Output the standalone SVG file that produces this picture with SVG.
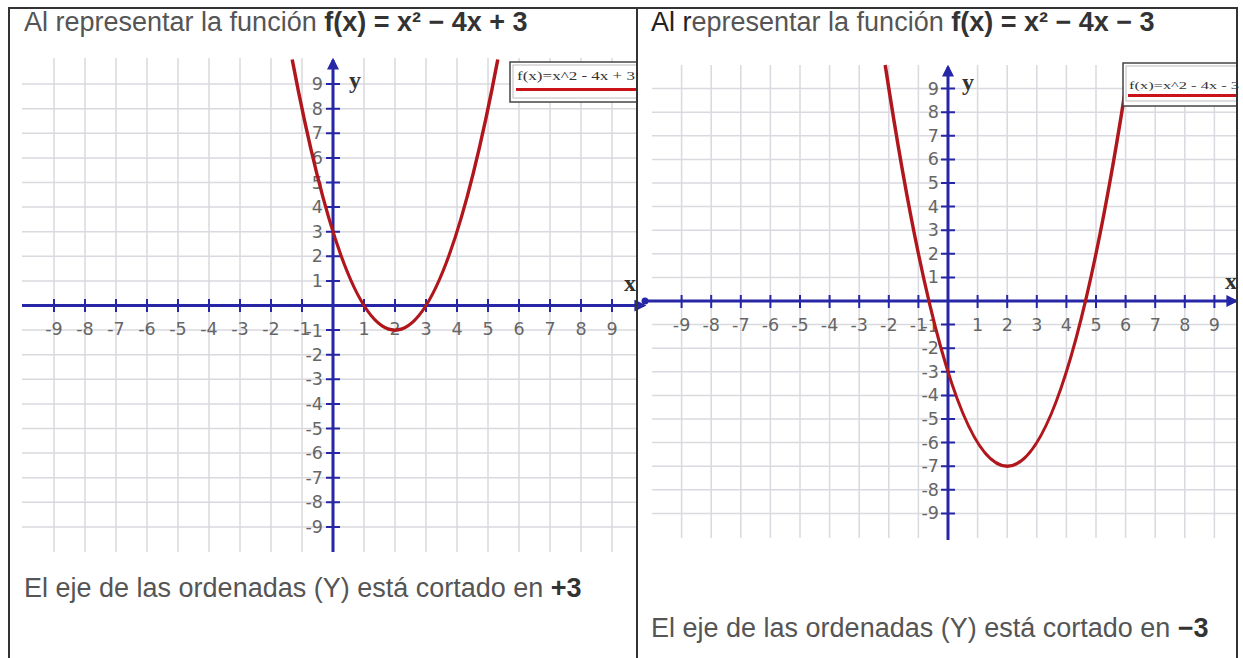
<svg xmlns="http://www.w3.org/2000/svg" width="1243" height="658" viewBox="0 0 1243 658">
<style>
.title{font-family:"Liberation Sans",Arial,sans-serif;font-size:27px;fill:#555}
.b{font-weight:bold;fill:#333}
.grid{stroke:#d9d9e0;stroke-width:1.5;fill:none}
.axis{stroke:#2626a6;stroke-width:3;fill:none}
.tick{stroke:#2626a6;stroke-width:2;fill:none}
.curve{stroke:#b0171d;stroke-width:3.5;fill:none}
.lbl{font-family:"DejaVu Sans",Verdana,sans-serif;font-size:17.5px;fill:#666}
.xl{text-anchor:middle}
.yl{text-anchor:end}
.axn{font-family:"Liberation Serif","Times New Roman",serif;font-weight:bold;font-size:24px;fill:#333}
.leg{fill:#fff;stroke:#444;stroke-width:1.5}
.legin{fill:none;stroke:#bbb;stroke-width:1}
.legt{font-family:"Liberation Serif","Times New Roman",serif;fill:#333}
.frame{stroke:#333;stroke-width:2;fill:none}
</style>
<defs>
<marker id="arr" viewBox="0 0 10 10" refX="8" refY="5" markerWidth="4" markerHeight="4" orient="auto-start-reverse"><path d="M0 0L10 5L0 10z" fill="#2626a6"/></marker>
</defs>
<rect width="1243" height="658" fill="#fff"/>

<g id="panel-left">
<path class="grid" d="M54 58V552M85 58V552M116 58V552M147 58V552M178 58V552M209 58V552M240 58V552M271 58V552M302 58V552M364 58V552M395 58V552M426 58V552M457 58V552M488 58V552M519 58V552M550 58V552M581 58V552M612 58V552
M22 84.1H637M22 108.7H637M22 133.3H637M22 157.9H637M22 182.5H637M22 207.1H637M22 231.7H637M22 256.3H637M22 280.9H637M22 330.1H637M22 354.7H637M22 379.3H637M22 403.9H637M22 428.5H637M22 453.1H637M22 477.7H637M22 502.3H637M22 526.9H637"/>
<path class="axis" d="M22 305.5H644" marker-end="url(#arr)"/>
<path class="axis" d="M333 552V60" marker-end="url(#arr)"/>
<path class="tick" d="M54 299V312M85 299V312M116 299V312M147 299V312M178 299V312M209 299V312M240 299V312M271 299V312M302 299V312M364 299V312M395 299V312M426 299V312M457 299V312M488 299V312M519 299V312M550 299V312M581 299V312M612 299V312
M326 84.1H340M326 108.7H340M326 133.3H340M326 157.9H340M326 182.5H340M326 207.1H340M326 231.7H340M326 256.3H340M326 280.9H340M326 330.1H340M326 354.7H340M326 379.3H340M326 403.9H340M326 428.5H340M326 453.1H340M326 477.7H340M326 502.3H340M326 526.9H340"/>
<g class="lbl xl">
<text x="54" y="335">-9</text><text x="85" y="335">-8</text><text x="116" y="335">-7</text><text x="147" y="335">-6</text><text x="178" y="335">-5</text><text x="209" y="335">-4</text><text x="240" y="335">-3</text><text x="271" y="335">-2</text><text x="302" y="335">-1</text>
<text x="364" y="335">1</text><text x="395" y="335">2</text><text x="426" y="335">3</text><text x="457" y="335">4</text><text x="488" y="335">5</text><text x="519" y="335">6</text><text x="550" y="335">7</text><text x="581" y="335">8</text><text x="612" y="335">9</text>
</g>
<g class="lbl yl">
<text x="323" y="90.1">9</text><text x="323" y="114.7">8</text><text x="323" y="139.3">7</text><text x="323" y="163.9">6</text><text x="323" y="188.5">5</text><text x="323" y="213.1">4</text><text x="323" y="237.7">3</text><text x="323" y="262.3">2</text><text x="323" y="286.9">1</text>
<text x="323" y="337">-1</text><text x="323" y="360.7">-2</text><text x="323" y="385.3">-3</text><text x="323" y="409.9">-4</text><text x="323" y="434.5">-5</text><text x="323" y="459.1">-6</text><text x="323" y="483.7">-7</text><text x="323" y="508.3">-8</text><text x="323" y="532.9">-9</text>
</g>
<text class="axn" x="349" y="88">y</text>
<text class="axn" x="624" y="291">x</text>
<path class="curve" d="M292.2 59.5Q395 600.8 497.8 59.5"/>
<rect class="leg" x="510" y="62" width="127" height="40"/>
<rect class="legin" x="513" y="65" width="124" height="33"/>
<text class="legt" x="517" y="80" font-size="12" textLength="118" lengthAdjust="spacingAndGlyphs">f(x)=x^2 - 4x + 3</text>
<path d="M516 89.5H636" stroke="#c8141a" stroke-width="3"/>
<text class="title" x="24" y="31">Al representar la función <tspan class="b">f(x) = x² − 4x + 3</tspan></text>
<text class="title" x="24" y="597">El eje de las ordenadas (Y) está cortado en <tspan class="b">+3</tspan></text>
</g>

<g id="panel-right">
<path class="grid" d="M681.6 65V538M711.2 65V538M740.8 65V538M770.4 65V538M800 65V538M829.6 65V538M859.2 65V538M888.8 65V538M918.4 65V538M977.6 65V538M1007.2 65V538M1036.8 65V538M1066.4 65V538M1096 65V538M1125.6 65V538M1155.2 65V538M1184.8 65V538M1214.4 65V538
M652 88.6H1237M652 112.2H1237M652 135.8H1237M652 159.4H1237M652 183H1237M652 206.6H1237M652 230.2H1237M652 253.8H1237M652 277.4H1237M652 324.6H1237M652 348.2H1237M652 371.8H1237M652 395.4H1237M652 419H1237M652 442.6H1237M652 466.2H1237M652 489.8H1237M652 513.4H1237"/>
<path class="axis" d="M648 301H1236" marker-end="url(#arr)"/>
<circle cx="645" cy="301" r="3.5" fill="#2626a6"/>
<path class="axis" d="M948 540V67" marker-end="url(#arr)"/>
<path class="tick" d="M681.6 295V308M711.2 295V308M740.8 295V308M770.4 295V308M800 295V308M829.6 295V308M859.2 295V308M888.8 295V308M918.4 295V308M977.6 295V308M1007.2 295V308M1036.8 295V308M1066.4 295V308M1096 295V308M1125.6 295V308M1155.2 295V308M1184.8 295V308M1214.4 295V308
M941 88.6H955M941 112.2H955M941 135.8H955M941 159.4H955M941 183H955M941 206.6H955M941 230.2H955M941 253.8H955M941 277.4H955M941 324.6H955M941 348.2H955M941 371.8H955M941 395.4H955M941 419H955M941 442.6H955M941 466.2H955M941 489.8H955M941 513.4H955"/>
<g class="lbl xl">
<text x="681.6" y="331">-9</text><text x="711.2" y="331">-8</text><text x="740.8" y="331">-7</text><text x="770.4" y="331">-6</text><text x="800" y="331">-5</text><text x="829.6" y="331">-4</text><text x="859.2" y="331">-3</text><text x="888.8" y="331">-2</text><text x="918.4" y="331">-1</text>
<text x="977.6" y="331">1</text><text x="1007.2" y="331">2</text><text x="1036.8" y="331">3</text><text x="1066.4" y="331">4</text><text x="1096" y="331">5</text><text x="1125.6" y="331">6</text><text x="1155.2" y="331">7</text><text x="1184.8" y="331">8</text><text x="1214.4" y="331">9</text>
</g>
<g class="lbl yl">
<text x="939" y="94.6">9</text><text x="939" y="118.2">8</text><text x="939" y="141.8">7</text><text x="939" y="165.4">6</text><text x="939" y="189">5</text><text x="939" y="212.6">4</text><text x="939" y="236.2">3</text><text x="939" y="259.8">2</text><text x="939" y="283.4">1</text>
<text x="939" y="331.5">-1</text><text x="939" y="354.2">-2</text><text x="939" y="377.8">-3</text><text x="939" y="401.4">-4</text><text x="939" y="425">-5</text><text x="939" y="448.6">-6</text><text x="939" y="472.2">-7</text><text x="939" y="495.8">-8</text><text x="939" y="519.4">-9</text>
</g>
<text class="axn" x="962" y="90">y</text>
<text class="axn" x="1225" y="289">x</text>
<path class="curve" d="M885.2 65Q1007.2 867.4 1129.2 65"/>
<rect class="leg" x="1123" y="63" width="114" height="43"/>
<rect class="legin" x="1126" y="66" width="111" height="35"/>
<text class="legt" x="1129" y="89" font-size="11" textLength="110" lengthAdjust="spacingAndGlyphs">f(x)=x^2 - 4x - 3</text>
<path d="M1128 95.5H1237" stroke="#c8141a" stroke-width="3"/>
<text class="title" x="651" y="31"><tspan fill="#222">Al r</tspan>epresentar la función <tspan class="b">f(x) = x² − 4x − 3</tspan></text>
<text class="title" x="651" y="637">El eje de las ordenadas (Y) está cortado en <tspan class="b">−3</tspan></text>
</g>

<g id="frame">
<path class="frame" d="M9 658V8H1237V658M637 8V658"/>
</g>
</svg>
